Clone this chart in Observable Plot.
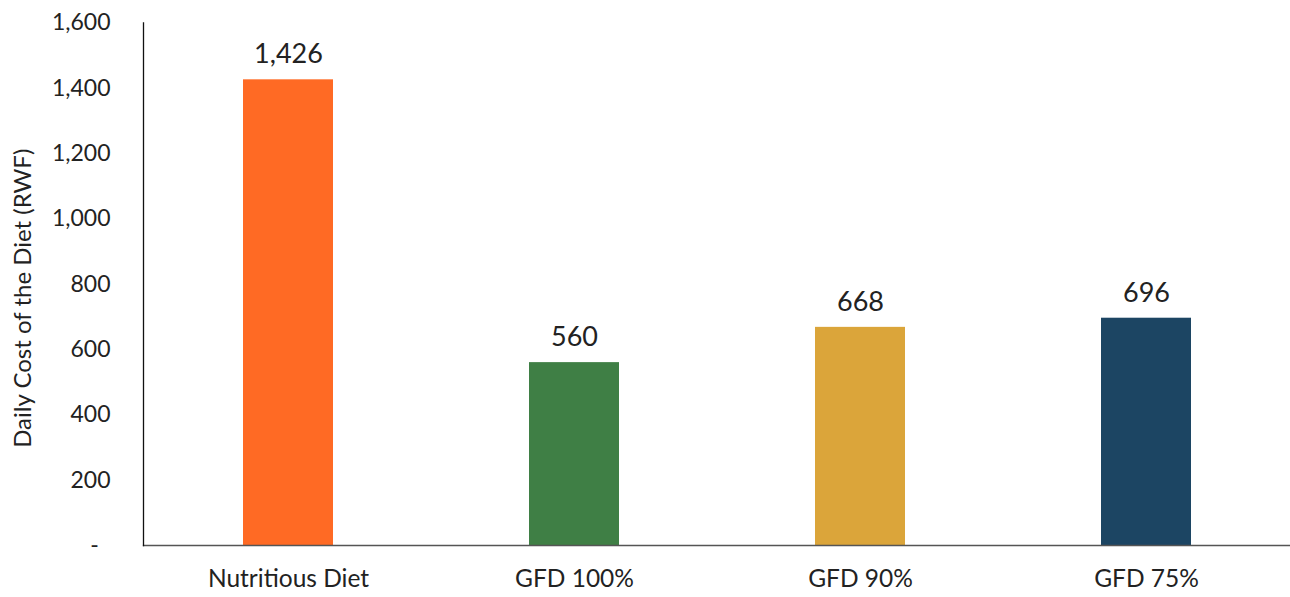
<!DOCTYPE html>
<html>
<head>
<meta charset="utf-8">
<script src="https://cdn.jsdelivr.net/npm/d3@7"></script>
<script src="https://cdn.jsdelivr.net/npm/@observablehq/plot@0.6"></script>
<style>
  html, body { margin: 0; padding: 0; background: #fff; }
  #chart svg { display: block; }
</style>
</head>
<body>
<div id="chart"></div>
<script>
const categories = ["Nutritious Diet", "GFD 100%", "GFD 90%", "GFD 75%"];
const values = [1426, 560, 668, 696];
const colors = ["#FF6A24", "#3F7F45", "#DBA53A", "#1C4563"];
const yTicks = [0, 200, 400, 600, 800, 1000, 1200, 1400, 1600];
const yLabel = "Daily Cost of the Diet (RWF)";

const data = categories.map((c, i) => ({category: c, value: values[i]}));
const fmt = d3.format(",");

const chart = Plot.plot({
  width: 1290,
  height: 597,
  marginTop: 22.5,
  marginBottom: 52,
  marginLeft: 143,
  marginRight: 0,
  style: {fontFamily: "Lato, sans-serif", color: "#222", background: "#fff"},
  x: {domain: categories, paddingInner: 0.686, paddingOuter: 0.343, label: null},
  y: {domain: [0, 1600], label: null},
  color: {domain: categories, range: colors},
  marks: [
    Plot.barY(data, {x: "category", y: "value", fill: "category"}),
    Plot.frame({anchor: "bottom", stroke: "#555", strokeWidth: 1.3}),
    Plot.frame({anchor: "left", stroke: "#111", strokeWidth: 1.3}),
    Plot.axisY({
      ticks: yTicks, tickSize: 0, tickPadding: 33, fontSize: 23,
      tickFormat: d => d === 0 ? "-\u00a0\u00a0" : fmt(d),
      label: null
    }),
    Plot.text([yLabel], {text: d => d, frameAnchor: "left", textAnchor: "middle", rotate: -90, dx: -120, dy: 14, fontSize: 24, fill: "#222"}),
    Plot.axisX({tickSize: 0, tickPadding: 24, fontSize: 24.5, label: null}),
    Plot.text(data, {x: "category", y: "value", text: d => fmt(d.value), dy: -25, fontSize: 27, fill: "#222"})
  ]
});
document.getElementById("chart").appendChild(chart);
</script>
</body>
</html>
